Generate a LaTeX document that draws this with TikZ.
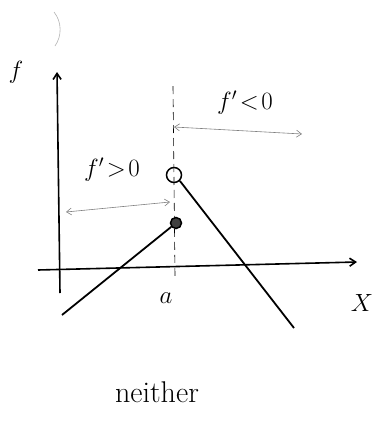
\documentclass[tikz,border=0pt]{standalone}
\usetikzlibrary{arrows.meta}
\begin{document}
\begin{tikzpicture}[x=1pt,y=-1pt,
  axis/.style={line width=1.6pt,-{Straight Barb[length=6pt,width=8pt]}},
  graph/.style={line width=1.8pt},
  guide/.style={gray,line width=0.6pt,{Straight Barb[length=5pt,width=7pt]}-{Straight Barb[length=5pt,width=7pt]}},
  lbl/.style={inner sep=0pt,font=\fontsize{26}{28}\selectfont}]
\useasboundingbox (0,0) rectangle (377,424);
% faint stroke at top left
\draw[gray!60,line width=0.6pt] (54,12) .. controls (62,22) and (62,36) .. (55,46);
% axes
\coordinate (yb) at (60,293);
\coordinate (yt) at (57,72);
\coordinate (xl) at (38,270);
\coordinate (xr) at (357,262);
\draw[axis] (yb) -- (yt);
\draw[axis] (xl) -- (xr);
\node[lbl,font=\fontsize{34}{36}\selectfont] (f) at (16,72) {$f$};
\node[lbl,font=\fontsize{30}{32}\selectfont] (X) at (362,303) {$X$};
\node[lbl] (a) at (166,298) {$a$};
% dashed vertical at a
\coordinate (dt) at (173,86);
\coordinate (db) at (175,276);
\draw[dashed,line width=0.6pt,dash pattern=on 8pt off 5pt] (dt) -- (db);
% circles
\node[draw,circle,line width=1.5pt,minimum size=15pt,inner sep=0pt] (oc) at (174,175) {};
\node[draw,circle,fill=black!75,line width=1.5pt,minimum size=11pt,inner sep=0pt] (fc) at (176,223) {};
\coordinate (ll) at (62,315);
\coordinate (rr) at (294,328);
\draw[graph] (fc) -- (ll);
\draw[graph] (oc.south east) -- (rr);
% guide arrows
\coordinate (g1a) at (66,212);
\coordinate (g1b) at (170,202);
\draw[guide] (g1a) -- (g1b);
\node[lbl] (fpos) at (112,170) {$f'\!>\!0$};
\coordinate (g2a) at (174,127);
\coordinate (g2b) at (302,134);
\draw[guide] (g2a) -- (g2b);
\node[lbl] (fneg) at (245,103) {$f'\!<\!0$};
% caption
\node[inner sep=0pt,font=\fontsize{30}{32}\selectfont] (cap) at (157,392) {neither};
\end{tikzpicture}
\end{document}
